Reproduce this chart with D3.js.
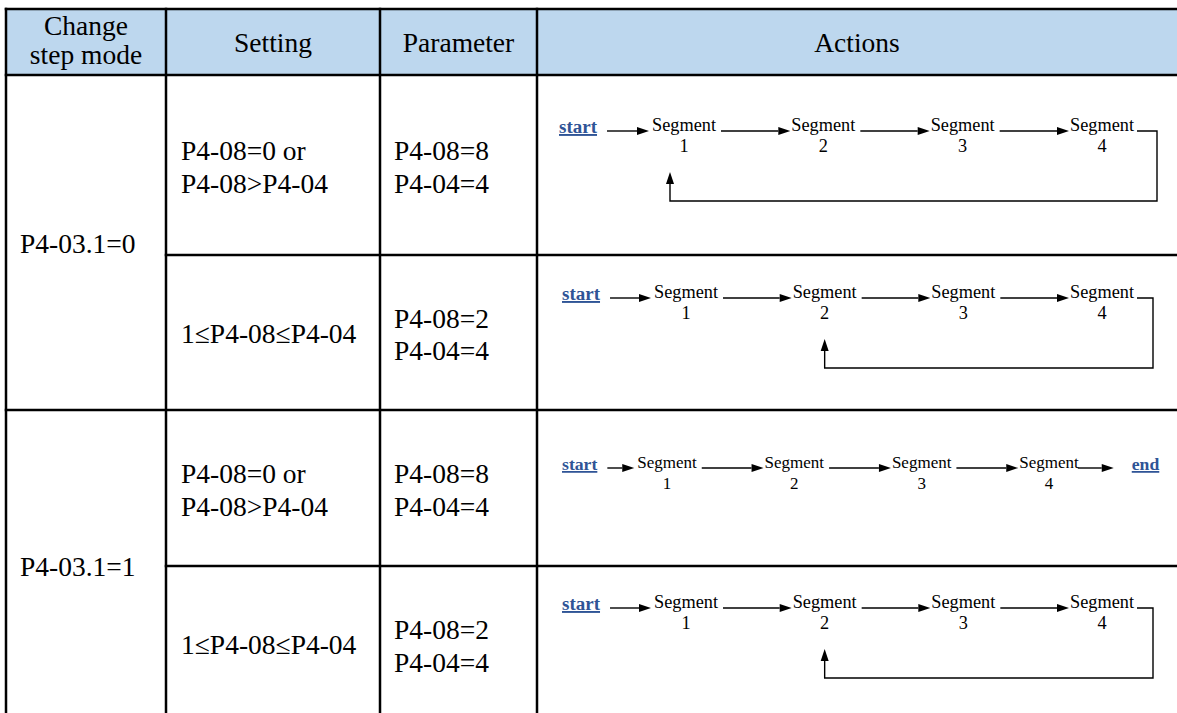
<!DOCTYPE html>
<html><head><meta charset="utf-8">
<script src="https://cdn.jsdelivr.net/npm/d3@7"></script>
<style>
body{margin:0;background:#fff}
svg{display:block}
text{font-family:"Liberation Serif","Times New Roman",serif;fill:#000}
</style>
</head><body><svg id="c" width="1177" height="713"></svg>
<script>
// ---- data ----
const headers = [["Change","step mode"],["Setting"],["Parameter"],["Actions"]];
const modes = ["P4-03.1=0","P4-03.1=1"];
const settings = [["P4-08=0 or","P4-08>P4-04"],["1≤P4-08≤P4-04"],["P4-08=0 or","P4-08>P4-04"],["1≤P4-08≤P4-04"]];
const parameters = [["P4-08=8","P4-04=4"],["P4-08=2","P4-04=4"],["P4-08=8","P4-04=4"],["P4-08=2","P4-04=4"]];
const segments = [1,2,3,4];
const segmentLabel = "Segment";
const startLabel = "start";
const endLabel = "end";
const loopBackTo = [1,2,null,2];
const finishes = [false,false,true,false];

// ---- layout ----
const W = 1177, H = 713;
const colEdges = [6,166,380,537,1190];
const rowEdges = [9,75,255,410,566,722];
const flowTop = [56,43,58,42];
const flowFont = [18.3,18.3,17,18.3];
const flowRange = [[684,1102],[686,1102],[667,1049],[686,1102]];
const flowStartX = [559,562,562,562];
const loopRight = [1157,1153,null,1153];
const loopTargetShift = [-14,0,0,0];
const linkColor = "#2F5496";

const svg = d3.select("#c");

// header fill
svg.append("rect").attr("x",colEdges[0]).attr("y",rowEdges[0])
  .attr("width",W-colEdges[0]+10).attr("height",rowEdges[1]-rowEdges[0]).attr("fill","#BDD7EE");

// grid
const grid = svg.append("g").attr("stroke","#000").attr("stroke-width",2.5);
[[rowEdges[0],colEdges[0]],[rowEdges[1],colEdges[0]],[rowEdges[2],colEdges[1]],[rowEdges[3],colEdges[0]],[rowEdges[4],colEdges[1]],[rowEdges[5],colEdges[0]]]
  .forEach(([y,x0])=>grid.append("line").attr("x1",x0-1.25).attr("x2",colEdges[4]).attr("y1",y).attr("y2",y));
colEdges.forEach(x=>grid.append("line").attr("x1",x).attr("x2",x).attr("y1",rowEdges[0]-1.25).attr("y2",rowEdges[5]));

const FS = 27.5;
// headers
headers.forEach((lines,i)=>{
  const cx = (colEdges[i]+Math.min(colEdges[i+1],W))/2;
  const ys = lines.length===2 ? [35,64] : [52];
  lines.forEach((t,j)=>svg.append("text").attr("x",cx).attr("y",ys[j])
    .attr("text-anchor","middle").attr("font-size",FS).text(t));
});

// mode column
modes.forEach((t,m)=>{
  const c = (rowEdges[1+2*m]+rowEdges[3+2*m])/2;
  svg.append("text").attr("x",colEdges[0]+14).attr("y",c+10).attr("font-size",FS).text(t);
});

function cellText(lines,x,r){
  const c = (rowEdges[r+1]+rowEdges[r+2])/2;
  const ys = lines.length===2 ? [c-5,c+27.5] : [c+10];
  lines.forEach((t,j)=>svg.append("text").attr("x",x).attr("y",ys[j]).attr("font-size",FS).text(t));
}
settings.forEach((l,r)=>cellText(l,colEdges[1]+15,r));
parameters.forEach((l,r)=>cellText(l,colEdges[2]+14,r));

// arrows
const flow = svg.append("g");
function arrow(x1,y1,x2,y2){
  const L=12, hw=4;
  const dx=x2-x1, dy=y2-y1, len=Math.hypot(dx,dy), ux=dx/len, uy=dy/len;
  const bx=x2-ux*L, by=y2-uy*L;
  flow.append("line").attr("x1",x1).attr("y1",y1).attr("x2",bx).attr("y2",by)
    .attr("stroke","#000").attr("stroke-width",1.4);
  flow.append("path").attr("d",`M${x2},${y2}L${bx-uy*hw},${by+ux*hw}L${bx+uy*hw},${by-ux*hw}Z`).attr("fill","#000");
}

settings.forEach((_,r)=>{
  const ay = rowEdges[r+1]+flowTop[r];
  const fs = flowFont[r];
  const xs = d3.scalePoint().domain(segments).range(flowRange[r]);
  const st = flow.append("text").attr("x",flowStartX[r]).attr("y",ay+2)
    .attr("font-size",fs*1.04).attr("font-weight","bold").attr("fill",linkColor)
    .style("fill",linkColor).attr("text-decoration","underline").text(startLabel);
  const stRight = flowStartX[r]+st.node().getComputedTextLength();
  const bounds = segments.map(s=>{
    const t = flow.append("text").attr("x",xs(s)).attr("y",ay).attr("text-anchor","middle")
      .attr("font-size",fs).text(segmentLabel);
    flow.append("text").attr("x",xs(s)).attr("y",ay+21).attr("text-anchor","middle")
      .attr("font-size",fs).text(s);
    const w = t.node().getComputedTextLength();
    return [xs(s)-w/2, xs(s)+w/2];
  });
  arrow(stRight+10, ay, bounds[0][0]-3, ay);
  for(let i=1;i<bounds.length;i++) arrow(bounds[i-1][1]+5, ay, bounds[i][0]-1, ay);
  const last = bounds[bounds.length-1][1];
  if(loopBackTo[r]!=null){
    const tx = xs(loopBackTo[r])+loopTargetShift[r];
    flow.append("path").attr("d",`M${last+3},${ay}H${loopRight[r]}V${ay+70}H${tx}V${ay+52}`)
      .attr("fill","none").attr("stroke","#000").attr("stroke-width",1.4);
    arrow(tx, ay+53, tx, ay+41);
  }
  if(finishes[r]){
    arrow(last-1, ay, last+35, ay);
    flow.append("text").attr("x",last+53).attr("y",ay+2)
      .attr("font-size",fs*1.04).attr("font-weight","bold").style("fill",linkColor)
      .attr("text-decoration","underline").text(endLabel);
  }
});
</script>
</body></html>
